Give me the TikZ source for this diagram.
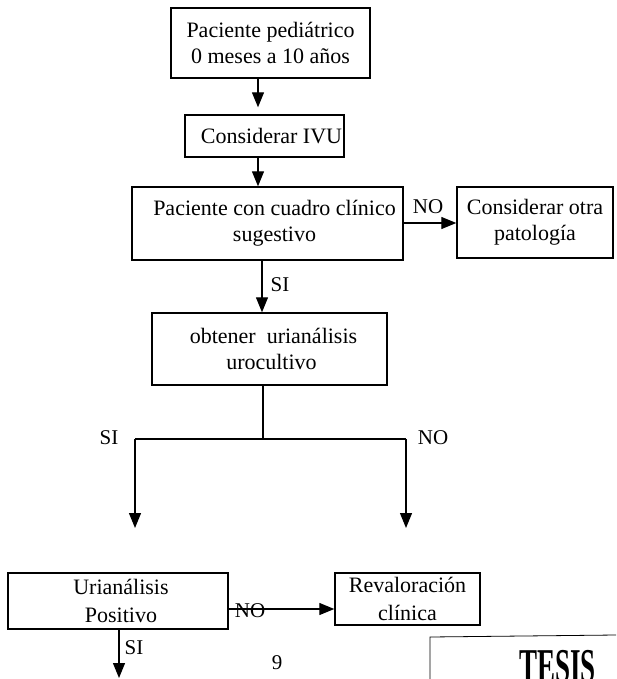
\documentclass[tikz,border=0pt]{standalone}
\usepackage{fontspec}
\setmainfont{Liberation Serif}
\usetikzlibrary{arrows.meta}
\begin{document}
\begin{tikzpicture}[x=1pt,y=-1pt,
  box/.style={draw, line width=1.4pt, align=center, inner sep=0pt,
    font=\fontsize{22}{26}\selectfont},
  arr/.style={line width=1.2pt, -{Triangle[width=12pt,length=15pt]}},
  conn/.style={line width=1.2pt},
  lbl/.style={font=\fontsize{21}{24}\selectfont, inner sep=0pt}]
\useasboundingbox (0,0) rectangle (616,679);
\coordinate (spine) at (258,0);
\coordinate (spine2) at (262,0);

\node[box, minimum width=199pt, minimum height=70pt] (b1) at (270.5,43)
  {Paciente pediátrico\\0 meses a 10 años};
\node[box, minimum width=159pt, minimum height=42pt] (b2) at (264.5,136)
  {\hspace*{14pt}Considerar IVU};
\node[box, minimum width=271pt, minimum height=73pt] (b3) at (267.5,223.5)
  {\hspace*{14pt}Paciente con cuadro clínico\\\hspace*{14pt}sugestivo};
\node[box, minimum width=156pt, minimum height=71pt] (b4) at (535,222.5)
  {Considerar otra\\patología};
\node[box, minimum width=235pt, minimum height=72pt] (b5) at (269.5,349)
  {\hspace*{8pt}obtener\ \ urianálisis\\\hspace*{4pt}urocultivo};
\node[box, minimum width=220pt, minimum height=56pt, font=\fontsize{22}{28}\selectfont] (b6) at (118,601)
  {\hspace*{6pt}Urianálisis\\\hspace*{6pt}Positivo};
\node[box, minimum width=145pt, minimum height=52pt, font=\fontsize{22}{28}\selectfont] (b7) at (407.5,599)
  {Revaloración\\clínica};

% connectors
\draw[arr, shorten >=7pt] (b1.south -| spine) -- (b2.north -| spine);
\draw[arr] (b2.south -| spine) -- (b3.north -| spine);
\draw[arr] (b3.east |- 0,223) -- (b4.west |- 0,223);
\node[lbl] (no1) at (428,207) {NO};
\draw[arr] (b3.south -| spine2) -- (b5.north -| spine2);
\node[lbl] (si1) at (280,285) {SI};

\coordinate (jc) at (263,439);
\coordinate (jl) at (135,439);
\coordinate (jr) at (406,439);
\coordinate (tl) at (135,528);
\coordinate (tr) at (406,528);
\draw[conn] (b5.south -| jc) -- (jc);
\draw[conn] (jl) -- (jr);
\draw[arr] (jl) -- (tl);
\draw[arr] (jr) -- (tr);
\node[lbl] (si2) at (109,438) {SI};
\node[lbl] (no2) at (433,438) {NO};

\draw[arr] (b6.east |- 0,609) -- (b7.west |- 0,609);
\node[lbl] (no3) at (250,611) {NO};
\coordinate (send) at (119,678);
\draw[arr] (b6.south -| send) -- (send);
\node[lbl] (si3) at (134,648) {SI};

\node[lbl] (pg) at (277,663) {9};

% stamp
\begin{scope}
\clip (0,0) rectangle (616,679);
\draw[line width=0.8pt] (430,679) -- (430,637) -- (616,635);
\node[inner sep=0pt, font=\fontsize{27}{27}\bfseries, yscale=1.8, anchor=north] (tesis) at (557.5,650) {TESIS};
\end{scope}
\end{tikzpicture}
\end{document}
